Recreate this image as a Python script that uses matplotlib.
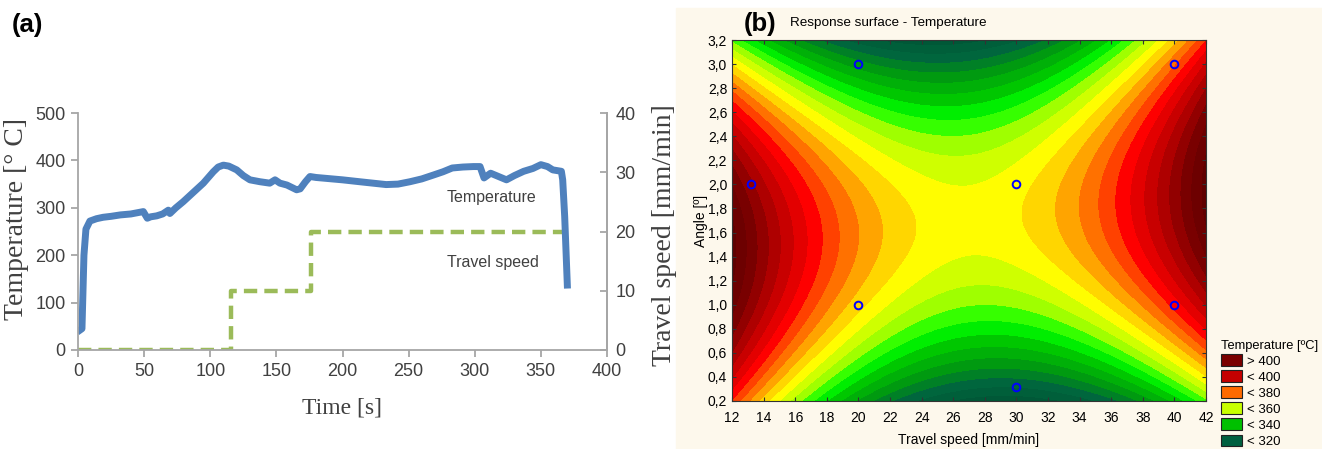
import numpy as np
import matplotlib
matplotlib.use("Agg")
import matplotlib.pyplot as plt
from matplotlib.colors import LinearSegmentedColormap
from matplotlib.patches import Patch, Rectangle

# ---- data: panel (a) ----
time_s = [1.5, 3, 4.5, 6, 9, 14, 19, 25, 32, 40, 49.4, 52.4, 55, 59.5, 64, 68.3, 69.5,
          74, 79.6, 87, 94.8, 102.3, 106, 109.9, 114, 120, 125, 130, 137.6, 145, 149,
          152.7, 158, 165.3, 168, 172, 175.4, 180, 188, 200, 213, 223, 233, 242, 251,
          260, 268.6, 276, 283, 291, 299, 304, 307, 312, 318, 324, 330, 337, 344, 350,
          355, 359, 365.5, 366.5, 368, 370]
temperature = [42, 45, 200, 255, 272, 277, 280, 282, 285, 287, 292, 278, 281, 283, 287,
               295, 288, 300, 313, 332, 352, 376, 386, 390, 388, 380, 368, 359, 355, 352,
               359, 352, 348, 338, 340, 355, 366, 364, 362, 359, 355, 352, 349, 350, 355,
               361, 369, 376, 384, 386, 387, 387, 363, 373, 366, 359, 368, 377, 383, 391,
               387, 380, 377, 359, 282, 137]

speed_t = [0, 116, 116, 176, 176, 370]
speed_v = [0, 0, 10, 10, 20, 20]

# ---- data: panel (b) ----
# quadratic response surface T = b0 + b1*x + b2*y + b11*x^2 + b22*y^2 + b12*x*y
rsm_coef = {"b0": 518.9, "b1": -15.4, "b2": 60.0, "b11": 0.26, "b22": -24.0, "b12": 0.8}
design_speed = [13.2, 20, 20, 30, 30, 40, 40]
design_angle = [2.0, 3.0, 1.0, 2.0, 0.32, 3.0, 1.0]
legend_labels = ["> 400", "< 400", "< 380", "< 360", "< 340", "< 320"]
legend_colors = ["#7a0000", "#c40000", "#ff6a00", "#c8ff00", "#00c000", "#00603f"]

sans = "Liberation Sans"
serif = "Liberation Serif"
W, H = 1322, 449

fig = plt.figure(figsize=(W / 100, H / 100), dpi=100)
fig.patches.append(Rectangle((676 / W, 0), (W - 676) / W, (H - 8) / H,
                             transform=fig.transFigure, color="#fdf8ec", zorder=-1))

# ---------- (a) ----------
ax1 = fig.add_axes([78 / W, 1 - 350 / H, 529 / W, 237 / H])
ax1.plot(time_s, temperature, color="#4f81bd", lw=5, solid_joinstyle="round")
ax1.set_xlim(0, 400)
ax1.set_ylim(0, 500)
ax1.set_xticks(range(0, 401, 50))
ax1.set_yticks(range(0, 501, 100))
ax1.spines["top"].set_visible(False)
for s in ["left", "bottom", "right"]:
    ax1.spines[s].set_color("#a6a6a6")
    ax1.spines[s].set_linewidth(1.3)
ax1.tick_params(colors="#a6a6a6", labelcolor="#404040", length=5, width=1.3, pad=4)
for lab in ax1.get_xticklabels() + ax1.get_yticklabels():
    lab.set_fontfamily(sans)
    lab.set_fontsize(13)
ax1.set_xlabel("Time [s]", fontfamily=serif, fontsize=17, color="#404040")
ax1.xaxis.set_label_coords(0.499, -0.2)
ax1.set_ylabel("Temperature [° C]", fontfamily=serif, fontsize=20, color="#404040")
ax1.yaxis.set_label_coords(-0.092, 0.553)
ax1.text(279, 321, "Temperature", fontfamily=sans, fontsize=11.5, color="#404040", va="center")
ax1.text(279, 184, "Travel speed", fontfamily=sans, fontsize=11.5, color="#404040", va="center")

ax2 = ax1.twinx()
ax2.plot(speed_t, speed_v, color="#9bbb59", lw=3.2, linestyle=(0, (3, 1.6)))
ax2.set_ylim(0, 40)
ax2.set_yticks(range(0, 41, 10))
for s in ["top", "left", "bottom"]:
    ax2.spines[s].set_visible(False)
ax2.spines["right"].set_color("#a6a6a6")
ax2.spines["right"].set_linewidth(1.3)
ax2.tick_params(colors="#a6a6a6", labelcolor="#404040", length=5, width=1.3,
                direction="in", pad=6)
for lab in ax2.get_yticklabels():
    lab.set_fontfamily(sans)
    lab.set_fontsize(13)
ax2.set_ylabel("Travel speed [mm/min]", fontfamily=serif, fontsize=20, color="#404040")
ax2.yaxis.set_label_coords(1.085, 0.485)
ax1.set_zorder(ax2.get_zorder() + 1)
ax1.patch.set_visible(False)

fig.text(12 / W, 1 - 25 / H, "(a)", fontsize=18.5, fontweight="bold", fontfamily=sans,
         va="center")

# ---------- (b) ----------
ax3 = fig.add_axes([732 / W, 1 - 401 / H, 474 / W, 361 / H])
xg, yg = np.meshgrid(np.linspace(12, 42, 300), np.linspace(0.2, 3.2, 300))
c = rsm_coef
zg = (c["b0"] + c["b1"] * xg + c["b2"] * yg + c["b11"] * xg ** 2
      + c["b22"] * yg ** 2 + c["b12"] * xg * yg)

anchors = [(300, "#004d33"), (317.5, "#00663d"), (327.5, "#009a10"), (337.5, "#00c800"),
           (345, "#00ff00"), (352.5, "#a0ff00"), (357.5, "#d0ff00"), (362.5, "#ffff00"),
           (367.5, "#ffd700"), (372.5, "#ffa500"), (377.5, "#ff7000"), (382.5, "#ff4000"),
           (387.5, "#ff0000"), (397.5, "#c80000"), (412.5, "#7a0000"), (425, "#5a0000")]
cmap = LinearSegmentedColormap.from_list(
    "rs", [((v - 300) / 125, col) for v, col in anchors])
levels = np.arange(300, 426, 5)
band_colors = [cmap((0.5 * (levels[i] + levels[i + 1]) - 300) / 125)
               for i in range(len(levels) - 1)]
ax3.contourf(xg, yg, zg, levels=levels, colors=band_colors, extend="both")
ax3.plot(design_speed, design_angle, "o", mfc="none", mec="#0000ff", ms=5.5, mew=1.4)
ax3.set_xlim(12, 42)
ax3.set_ylim(0.2, 3.2)
ax3.set_xticks(range(12, 43, 2))
yt = np.arange(0.2, 3.21, 0.2)
ax3.set_yticks(yt)
ax3.set_yticklabels([f"{v:.1f}".replace(".", ",") for v in yt])
ax3.tick_params(direction="in", top=True, right=True, length=3, width=0.8,
                labelsize=10, colors="#333333", labelcolor="black")
ax3.tick_params(axis="x", pad=7)
for lab in ax3.get_xticklabels() + ax3.get_yticklabels():
    lab.set_fontfamily(sans)
for s in ax3.spines.values():
    s.set_color("#333333")
    s.set_linewidth(0.8)
ax3.set_xlabel("Travel speed [mm/min]", fontfamily=sans, fontsize=10, labelpad=6)
ax3.set_ylabel("Angle [º]", fontfamily=sans, fontsize=10, labelpad=0)

fig.text(744 / W, 1 - 24 / H, "(b)", fontsize=18.5, fontweight="bold", fontfamily=sans,
         va="center")
fig.text(790 / W, 1 - 23 / H, "Response surface - Temperature", fontsize=9.7,
         fontfamily=sans, va="center")

handles = [Patch(facecolor=col, edgecolor="#222222", linewidth=0.8) for col in legend_colors]
fig.legend(handles, legend_labels, title="Temperature [ºC]", loc="upper left",
           bbox_to_anchor=(1214 / W, 1 - 333 / H), frameon=False,
           title_fontproperties={"family": sans, "size": 9.3},
           handlelength=1.6, handleheight=1.0, labelspacing=0.2,
           borderpad=0, handletextpad=0.4, alignment="left",
           prop={"family": sans, "size": 9.5})

fig.savefig("out.png", dpi=100)
